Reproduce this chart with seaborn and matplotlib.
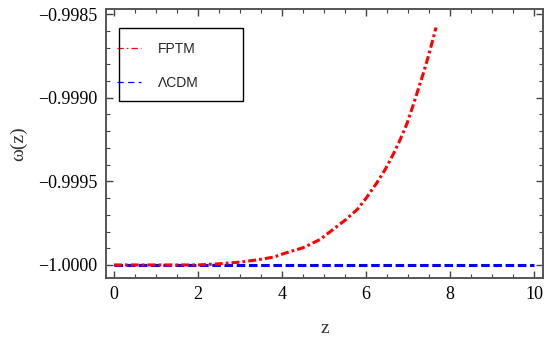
import matplotlib
matplotlib.use("Agg")
import matplotlib.pyplot as plt
import seaborn as sns
import pandas as pd
from matplotlib.patches import Rectangle
from matplotlib.ticker import MultipleLocator, FuncFormatter

# Equation-of-state parameter w(z) for the two models
z_fptm = [0.0, 1.0, 2.0, 2.5, 3.0, 3.4, 3.8, 4.1, 4.5, 4.9, 5.2, 5.5, 5.8, 6.0, 6.25,
          6.45, 6.65, 6.8, 6.97, 7.13, 7.25, 7.36, 7.48, 7.6, 7.66]
w_fptm = [-1.0, -1.0, -1.0, -0.999993, -0.999983, -0.99997, -0.999953, -0.999927,
          -0.999897, -0.999848, -0.99979, -0.999732, -0.999665, -0.9996, -0.99951,
          -0.99943, -0.999335, -0.999255, -0.999155, -0.999035, -0.99894, -0.998854,
          -0.99875, -0.99864, -0.99858]
z_lcdm = [0.0, 10.0]
w_lcdm = [-1.0, -1.0]

sns.set_theme(style="white")
plt.rcParams["font.family"] = ["Liberation Serif", "DejaVu Serif"]

fig, ax = plt.subplots(figsize=(5.52, 3.38), dpi=100)
fig.subplots_adjust(left=0.192, right=0.984, top=0.973, bottom=0.178)

df_f = pd.DataFrame({"z": z_fptm, "w": w_fptm})
df_l = pd.DataFrame({"z": z_lcdm, "w": w_lcdm})

sns.lineplot(data=df_l, x="z", y="w", ax=ax, color="#0000ff", lw=2.2,
             linestyle=(0, (2.8, 1.2)), label="ΛCDM", zorder=3)
sns.lineplot(data=df_f, x="z", y="w", ax=ax, color="#ff0000", lw=2.2,
             linestyle=(0, (2.6, 1.0, 0.9, 1.0)), label="FPTM", zorder=4)

ax.set_xlim(-0.19, 10.21)
ax.set_ylim(-1.000077, -0.99847)

ax.xaxis.set_major_locator(MultipleLocator(2))
ax.xaxis.set_minor_locator(MultipleLocator(0.5))
ax.yaxis.set_major_locator(MultipleLocator(0.0005))
ax.yaxis.set_minor_locator(MultipleLocator(0.0001))
ax.yaxis.set_major_formatter(FuncFormatter(lambda v, p: "\u2212" + f"{abs(v):.4f}"))
ax.xaxis.set_major_formatter(FuncFormatter(lambda v, p: f"{v:.0f}"))

for s in ax.spines.values():
    s.set_color("#555555")
    s.set_linewidth(1.4)
ax.tick_params(which="both", direction="in", bottom=True, left=True, top=True, right=True,
               color="#444444", labelsize=13, labelcolor="black")
ax.tick_params(which="major", length=5, width=1.0, pad=6)
ax.tick_params(which="minor", length=3, width=0.8)

ax.set_xlabel("z", fontsize=14, labelpad=12, color="#333333")
ax.set_ylabel("ω(z)", fontsize=14, labelpad=8, color="#333333")

# Legend box with the line samples starting at its left edge
ax.add_patch(Rectangle((0.030, 0.658), 0.284, 0.271, transform=ax.transAxes,
                       fill=False, edgecolor="black", lw=1.0, zorder=6))
handles, labels = ax.get_legend_handles_labels()
order = [labels.index("FPTM"), labels.index("ΛCDM")]
leg = ax.legend([handles[i] for i in order], [labels[i] for i in order],
                loc="upper left", bbox_to_anchor=(0.025, 0.878),
                prop={"family": "Liberation Sans", "size": 10},
                frameon=False, handlelength=1.75, handletextpad=1.2, borderpad=0,
                labelspacing=1.45, borderaxespad=0)
leg_lines = leg.get_lines()
for ln in leg_lines:
    ln.set_linewidth(0.9)
leg_lines[0].set_dashes([5, 2.5, 1.2, 2.5])
leg_lines[1].set_dashes([5, 3.5])

fig.savefig("out.png", dpi=100)
